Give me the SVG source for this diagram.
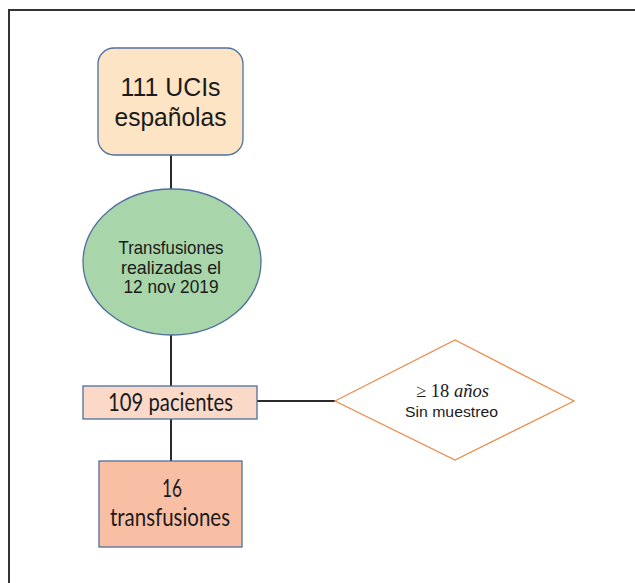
<svg xmlns="http://www.w3.org/2000/svg" width="635" height="583" viewBox="0 0 635 583">
<style>
.t{font-family:"Liberation Sans",Arial,sans-serif;fill:#1a1a1a;text-anchor:middle}
.g{font-family:Lato,"Liberation Sans",sans-serif;fill:#1a1a1a;text-anchor:middle}
.box{stroke:#4f6f9f;stroke-width:1.3}
.conn line{stroke:#2b2b2b;stroke-width:2}
</style>
<rect width="635" height="583" fill="#ffffff"/>
<g id="frame"><path d="M9 583 V10 H635" fill="none" stroke="#333" stroke-width="2"/></g>
<g class="conn" id="connectors">
<line x1="171" y1="155" x2="171" y2="189"/>
<line x1="171" y1="335" x2="171" y2="386"/>
<line x1="257" y1="401" x2="335" y2="401"/>
<line x1="171" y1="419" x2="171" y2="461"/>
</g>
<g id="n1">
<rect class="box" x="98" y="48" width="145" height="107" rx="16" fill="#fce4c4"/>
<text class="t" x="170.5" y="96" font-size="25" textLength="100" lengthAdjust="spacingAndGlyphs">111 UCIs</text>
<text class="t" x="170.5" y="126" font-size="25" textLength="112" lengthAdjust="spacingAndGlyphs">españolas</text>
</g>
<g id="n2">
<ellipse class="box" cx="172" cy="262" rx="89" ry="73" fill="#a8d5aa"/>
<text class="t" x="171" y="254" font-size="18.5" textLength="105" lengthAdjust="spacingAndGlyphs">Transfusiones</text>
<text class="t" x="171" y="274" font-size="18.5" textLength="100" lengthAdjust="spacingAndGlyphs">realizadas el</text>
<text class="t" x="171" y="293" font-size="18.5" textLength="95" lengthAdjust="spacingAndGlyphs">12 nov 2019</text>
</g>
<g id="n3">
<rect class="box" x="83" y="386" width="174" height="33" fill="#fbd9c9"/>
<text class="g" x="170.5" y="411" font-size="25" textLength="125" lengthAdjust="spacingAndGlyphs">109 pacientes</text>
</g>
<g id="n4">
<polygon points="335,401 455,340 574,401 455,460" fill="#ffffff" stroke="#ed8c4e" stroke-width="1.3"/>
<text x="452.5" y="397" font-size="18.5" text-anchor="middle" font-family="'Liberation Serif',serif" fill="#1a1a1a">≥ 18 <tspan font-style="italic">años</tspan></text>
<text class="t" x="451.5" y="417" font-size="15" textLength="93" lengthAdjust="spacingAndGlyphs">Sin muestreo</text>
</g>
<g id="n5">
<rect class="box" x="99" y="461" width="143" height="86" fill="#f8bfa5"/>
<text class="g" x="172" y="497" font-size="25" textLength="20" lengthAdjust="spacingAndGlyphs">16</text>
<text class="g" x="170" y="526" font-size="24.5" textLength="120" lengthAdjust="spacingAndGlyphs">transfusiones</text>
</g>
</svg>
